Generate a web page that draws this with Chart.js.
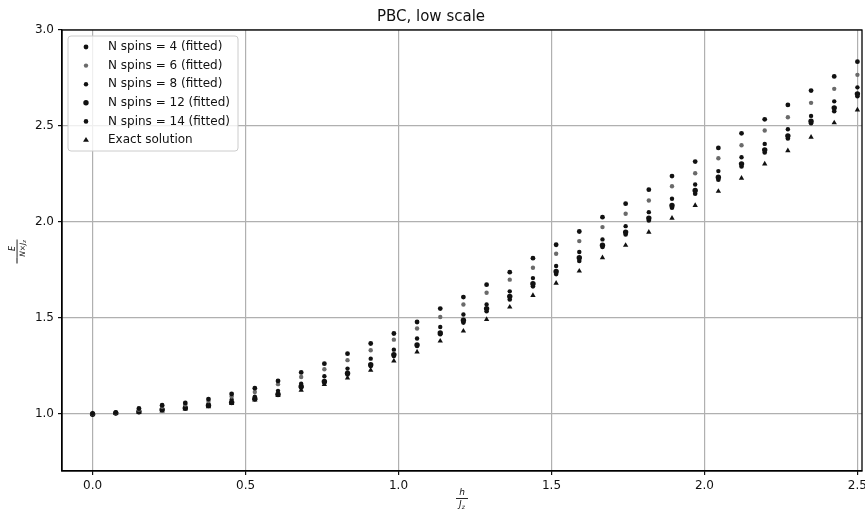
<!DOCTYPE html>
<html><head><meta charset="utf-8">
<script src="https://cdn.jsdelivr.net/npm/chart.js@4"></script>
<style>
html,body{margin:0;padding:0;background:#fff;overflow:hidden;width:865px;height:516px}
#wrap{position:relative;width:880px;height:516px}
</style></head>
<body><div id="wrap"><canvas id="c" width="880" height="516"></canvas></div>
<script>
// ---- data ----
const hValues = [0, 0.0758, 0.1515, 0.2273, 0.3030, 0.3788, 0.4545, 0.5303, 0.6061, 0.6818,
  0.7576, 0.8333, 0.9091, 0.9848, 1.0606, 1.1364, 1.2121, 1.2879, 1.3636, 1.4394,
  1.5152, 1.5909, 1.6667, 1.7424, 1.8182, 1.8939, 1.9697, 2.0455, 2.1212, 2.1970,
  2.2727, 2.3485, 2.4242, 2.5];
const n4Values = [1.0, 1.006, 1.026, 1.043, 1.055, 1.075, 1.102, 1.132, 1.17, 1.214,
  1.26, 1.312, 1.365, 1.417, 1.477, 1.547, 1.607, 1.672, 1.737, 1.81,
  1.88, 1.949, 2.024, 2.094, 2.167, 2.238, 2.314, 2.385, 2.461, 2.534,
  2.609, 2.684, 2.758, 2.835];
const n6Values = [0.998, 1.005, 1.02, 1.035, 1.047, 1.065, 1.088, 1.112, 1.153, 1.19,
  1.231, 1.278, 1.33, 1.385, 1.443, 1.503, 1.568, 1.630, 1.698, 1.76,
  1.833, 1.899, 1.972, 2.042, 2.111, 2.185, 2.253, 2.331, 2.399, 2.476,
  2.545, 2.62, 2.693, 2.766];
const n8Values = [0.997, 1.003, 1.013, 1.025, 1.035, 1.05, 1.072, 1.088, 1.118, 1.155,
  1.194, 1.234, 1.286, 1.333, 1.391, 1.451, 1.516, 1.569, 1.637, 1.706,
  1.769, 1.842, 1.908, 1.977, 2.05, 2.12, 2.194, 2.264, 2.336, 2.406,
  2.482, 2.552, 2.628, 2.701];
const n12Values = [0.996, 1.002, 1.009, 1.02, 1.028, 1.042, 1.058, 1.077, 1.10, 1.141,
  1.167, 1.21, 1.254, 1.307, 1.358, 1.42, 1.486, 1.547, 1.611, 1.677,
  1.741, 1.8125, 1.877, 1.946, 2.019, 2.085, 2.163, 2.232, 2.302, 2.375,
  2.448, 2.524, 2.594, 2.667];
const n14Values = [0.996, 1.002, 1.008, 1.018, 1.026, 1.04, 1.055, 1.074, 1.097, 1.135,
  1.16, 1.203, 1.248, 1.300, 1.352, 1.413, 1.474, 1.533, 1.595, 1.663,
  1.727, 1.795, 1.868, 1.934, 2.007, 2.073, 2.146, 2.219, 2.288, 2.361,
  2.434, 2.514, 2.576, 2.655];
const exactValues = [1.0, 1.001, 1.006, 1.013, 1.023, 1.036, 1.052, 1.071, 1.094, 1.122,
  1.151, 1.185, 1.226, 1.274, 1.321, 1.378, 1.43, 1.491, 1.555, 1.616,
  1.68, 1.743, 1.8125, 1.877, 1.946, 2.019, 2.085, 2.159, 2.227, 2.302,
  2.371, 2.441, 2.516, 2.583];
const seriesLabels = ['N spins = 4 (fitted)', 'N spins = 6 (fitted)', 'N spins = 8 (fitted)',
  'N spins = 12 (fitted)', 'N spins = 14 (fitted)', 'Exact solution'];
const xTickValues = [0, 0.5, 1.0, 1.5, 2.0, 2.5];
const yTickValues = [1.0, 1.5, 2.0, 2.5, 3.0];
const titleText = 'PBC, low scale';

// ---- styles ----
const FONT = 'DejaVu Sans';
const seriesStyles = [
  {color: '#111111', radius: 2.4, shape: 'circle'},
  {color: '#6a6a6a', radius: 2.2, shape: 'circle'},
  {color: '#111111', radius: 2.2, shape: 'circle'},
  {color: '#111111', radius: 2.7, shape: 'circle'},
  {color: '#111111', radius: 2.3, shape: 'circle'},
  {color: '#111111', radius: 3.1, shape: 'triangle'}
];
const allSeries = [n4Values, n6Values, n8Values, n12Values, n14Values, exactValues];

const datasets = allSeries.map((vals, k) => ({
  label: seriesLabels[k],
  data: vals.map((v, i) => ({x: hValues[i], y: v})),
  pointStyle: seriesStyles[k].shape,
  pointRadius: seriesStyles[k].radius,
  backgroundColor: seriesStyles[k].color,
  borderColor: seriesStyles[k].color,
  borderWidth: 0,
  showLine: false
}));

function drawRuns(ctx, runs, cx, cy) {
  let total = 0;
  runs.forEach(r => { ctx.font = r.font; r.w = ctx.measureText(r.t).width; total += r.w; });
  let x = cx - total / 2;
  runs.forEach(r => {
    ctx.font = r.font;
    ctx.fillText(r.t, x, cy + (r.dy || 0));
    x += r.w;
  });
  return total;
}

const decorPlugin = {
  id: 'decor',
  afterDraw(chart) {
    const ctx = chart.ctx;
    const a = chart.chartArea;
    ctx.save();
    ctx.strokeStyle = '#000';
    ctx.lineWidth = 1.3;
    ctx.strokeRect(a.left, a.top, a.right - a.left, a.bottom - a.top);

    // legend box
    const bx = 68, by = 36, bw = 170, bh = 115, r = 3;
    ctx.beginPath();
    ctx.moveTo(bx + r, by);
    ctx.arcTo(bx + bw, by, bx + bw, by + bh, r);
    ctx.arcTo(bx + bw, by + bh, bx, by + bh, r);
    ctx.arcTo(bx, by + bh, bx, by, r);
    ctx.arcTo(bx, by, bx + bw, by, r);
    ctx.closePath();
    ctx.fillStyle = 'rgba(255,255,255,0.8)';
    ctx.fill();
    ctx.strokeStyle = '#cccccc';
    ctx.lineWidth = 1;
    ctx.stroke();
    ctx.textBaseline = 'middle';
    ctx.textAlign = 'left';
    seriesLabels.forEach((lab, k) => {
      const yy = 47 + k * 18.6;
      const st = seriesStyles[k];
      ctx.fillStyle = st.color;
      if (st.shape === 'triangle') {
        const s = st.radius;
        ctx.beginPath();
        ctx.moveTo(86, yy - s);
        ctx.lineTo(86 + s * 0.95, yy + s * 0.6);
        ctx.lineTo(86 - s * 0.95, yy + s * 0.6);
        ctx.closePath();
        ctx.fill();
      } else {
        ctx.beginPath();
        ctx.arc(86, yy, st.radius, 0, Math.PI * 2);
        ctx.fill();
      }
      ctx.fillStyle = '#111';
      ctx.font = '12px "' + FONT + '"';
      ctx.fillText(lab, 108, yy);
    });

    // x-axis label: h / J_z
    ctx.fillStyle = '#111';
    ctx.textBaseline = 'alphabetic';
    const xc = (a.left + a.right) / 2;
    drawRuns(ctx, [{t: 'h', font: 'italic 9px "' + FONT + '"'}], xc, 495);
    ctx.fillRect(xc - 6, 498, 12, 0.9);
    drawRuns(ctx, [{t: 'J', font: 'italic 9px "' + FONT + '"'},
                   {t: 'z', font: 'italic 6px "' + FONT + '"', dy: 2}], xc, 507);

    // y-axis label: − E / (N × J_z)
    ctx.translate(17, (a.top + a.bottom) / 2);
    ctx.rotate(-Math.PI / 2);
    ctx.fillRect(-13, -0.5, 6, 1);
    const fc = 2;
    drawRuns(ctx, [{t: 'E', font: 'italic 8px "' + FONT + '"'}], fc, -2.5);
    ctx.fillRect(fc - 9, -0.4, 18, 0.9);
    drawRuns(ctx, [{t: 'N', font: 'italic 7.5px "' + FONT + '"'},
                   {t: '×', font: '7.5px "' + FONT + '"'},
                   {t: 'J', font: 'italic 7.5px "' + FONT + '"'},
                   {t: 'z', font: 'italic 5px "' + FONT + '"', dy: 1.5}], fc, 7.5);
    ctx.restore();
  }
};

const tickFont = {family: FONT, size: 12};
new Chart(document.getElementById('c'), {
  type: 'scatter',
  data: {datasets},
  plugins: [decorPlugin],
  options: {
    responsive: false,
    animation: false,
    devicePixelRatio: 1,
    layout: {padding: {left: 0, right: 18, top: 0, bottom: 0}},
    plugins: {
      legend: {display: false},
      tooltip: {enabled: false},
      title: {
        display: true, text: titleText, color: '#111',
        font: {family: FONT, size: 15, weight: 'normal', lineHeight: 1},
        padding: {top: 10, bottom: 5}
      }
    },
    scales: {
      x: {
        type: 'linear', min: -0.1, max: 2.515,
        afterBuildTicks: s => { s.ticks = xTickValues.map(v => ({value: v})); },
        afterFit: s => { s.height = 45; },
        ticks: {font: tickFont, color: '#111', padding: 4, maxRotation: 0, autoSkip: false,
                callback: v => Number(v).toFixed(1)},
        grid: {color: '#b0b0b0', lineWidth: 1.2, tickColor: '#111', tickLength: 4, drawOnChartArea: true},
        border: {color: '#000', width: 1.3}
      },
      y: {
        type: 'linear', min: 0.7, max: 3.0,
        afterBuildTicks: s => { s.ticks = yTickValues.map(v => ({value: v})); },
        afterFit: s => { s.width = 62; },
        ticks: {font: tickFont, color: '#111', padding: 4, autoSkip: false,
                callback: v => Number(v).toFixed(1)},
        grid: {color: '#b0b0b0', lineWidth: 1.2, tickColor: '#111', tickLength: 4},
        border: {color: '#000', width: 1.3}
      }
    }
  }
});
</script>
</body></html>
